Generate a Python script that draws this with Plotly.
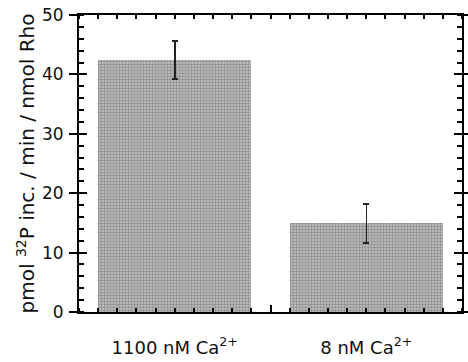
import plotly.graph_objects as go

categories = [0, 1]
tick_labels = ["1100 nM Ca<sup>2+</sup>", "8 nM Ca<sup>2+</sup>"]
values = [42.4, 14.9]
errors = [3.2, 3.3]

font = dict(family="DejaVu Sans", size=17, color="#111")

fig = go.Figure()
fig.add_trace(go.Bar(
    x=categories, y=values, width=0.8,
    marker=dict(color="#acacac", line=dict(width=0),
                pattern=dict(shape=".", fgcolor="#5a5a5a", bgcolor="#c2c2c2", size=3, solidity=0.5)),
    error_y=dict(type="data", array=errors, visible=True, color="#222", thickness=1.5, width=3),
    showlegend=False, hoverinfo="skip",
))
# overlay trace to activate secondary axes
fig.add_trace(go.Scatter(x=[categories[0]], y=[values[0]], xaxis="x2", yaxis="y2",
                         mode="markers", marker=dict(opacity=0), showlegend=False, hoverinfo="skip"))

fig.update_layout(
    width=468, height=362,
    margin=dict(l=79, r=6, t=15, b=50),
    plot_bgcolor="white", paper_bgcolor="white",
    font=font,
    bargap=0,
    xaxis=dict(range=[-0.5, 1.5], tickvals=categories, ticktext=tick_labels, automargin=False,
               ticks="", showline=True, linecolor="black", linewidth=2, mirror="ticks",
               showgrid=False, zeroline=False, tickfont=dict(size=18), ticklabelstandoff=18,
               ticklabeloverflow="allow",
               minor=dict(dtick=0.1, tick0=-0.5, ticks="inside", ticklen=4, tickcolor="black", tickwidth=1.5)),
    xaxis2=dict(overlaying="x", matches="x", side="bottom", tickvals=[0.5], ticks="inside", ticklen=7,
                tickcolor="black", tickwidth=1.5, showticklabels=False, showline=False, showgrid=False,
                zeroline=False, automargin=False),
    yaxis=dict(range=[0, 50], dtick=10, ticks="outside", ticklen=8, tickcolor="black", tickwidth=1.5,
               showline=True, linecolor="black", linewidth=2, mirror="ticks", showgrid=False, zeroline=False,
               tickfont=dict(size=17), automargin=False, ticklabelstandoff=2, ticklabeloverflow="allow",
               title=dict(text="pmol <sup>32</sup>P inc. / min / nmol Rho", font=dict(size=20), standoff=2),
               minor=dict(dtick=2, ticks="inside", ticklen=5, tickcolor="black", tickwidth=1.5)),
    yaxis2=dict(overlaying="y", matches="y", dtick=10, ticks="inside", ticklen=8, tickcolor="black",
                tickwidth=1.5, mirror="ticks", showticklabels=False, showline=False, showgrid=False,
                zeroline=False, automargin=False),
)

fig.write_html("out.html", config={"displayModeBar": False},
               post_script="document.body.style.margin='0';")
